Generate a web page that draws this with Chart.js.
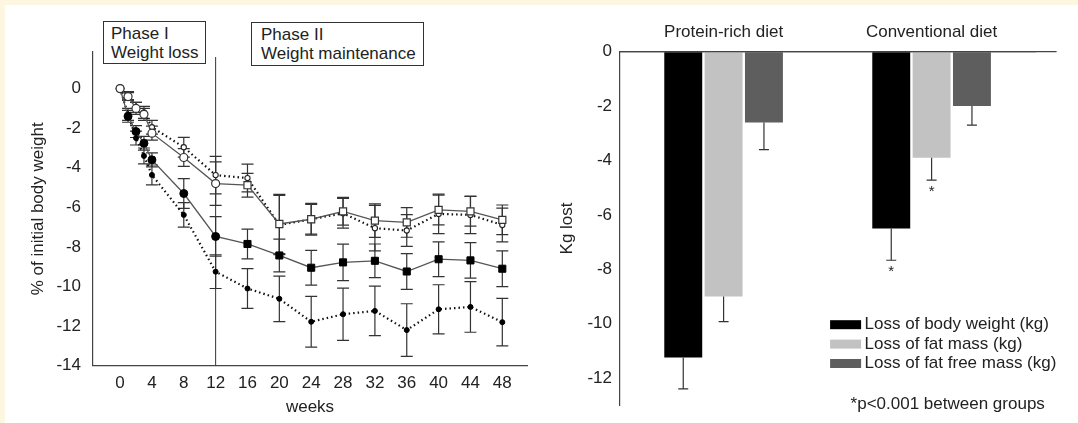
<!DOCTYPE html>
<html>
<head>
<meta charset="utf-8">
<script src="https://cdn.jsdelivr.net/npm/chart.js@4"></script>
<style>
  html, body { margin: 0; padding: 0; }
  body { width: 1078px; height: 423px; background: #fdf7e2; position: relative; overflow: hidden;
         font-family: "Liberation Sans", Arial, sans-serif; }
  #sheet { position: absolute; left: 5px; top: 5px; right: 0; bottom: 0; background: #fff; }
  .wrap { position: absolute; top: 0; height: 423px; }
  #leftWrap { left: 0; width: 540px; }
  #rightWrap { left: 540px; width: 538px; }
  .phase { position: absolute; border: 1px solid #333; font-size: 17px; line-height: 19px; color: #222;
           padding: 2px 0 0 7px; box-sizing: border-box; background: #fff; white-space: nowrap; }
</style>
</head>
<body>
<div id="sheet"></div>
<div class="wrap" id="leftWrap"><canvas id="weightChart"></canvas></div>
<div class="wrap" id="rightWrap"><canvas id="compChart"></canvas></div>
<div class="phase" style="left:103px;top:21px;width:103px;height:43px;">Phase I<br>Weight loss</div>
<div class="phase" style="left:251px;top:22px;width:173px;height:44px;padding-left:9px;">Phase II<br>Weight maintenance</div>

<script>
// ---- left panel: % of initial body weight over time ----
const weeks = [0, 1, 2, 3, 4, 8, 12, 16, 20, 24, 28, 32, 36, 40, 44, 48];
const weekTicks = [0, 4, 8, 12, 16, 20, 24, 28, 32, 36, 40, 44, 48];
const pctTicks = [0, -2, -4, -6, -8, -10, -12, -14];
const phaseSplitWeek = 12;

// open markers, solid line
const openSolid = [0, -0.4, -1.0, -1.3, -2.25, -3.48, -4.8, -4.88, -6.84, -6.6, -6.2, -6.67, -6.76, -6.13, -6.2, -6.63];
const openSolidErr = [0, 0.2, 0.3, 0.3, 0.35, 0.45, 1.1, 0.6, 1.5, 0.8, 0.7, 0.85, 0.75, 0.75, 0.75, 0.75];
// small open markers, dotted line
const openDotted = [0, -0.35, -0.95, -1.2, -1.95, -2.96, -4.37, -4.52, -6.89, -6.6, -6.3, -7.05, -7.17, -6.33, -6.38, -6.89];
const openDottedErr = [0, 0.2, 0.25, 0.3, 0.35, 0.5, 0.95, 0.7, 1.5, 0.75, 0.75, 1.15, 0.8, 1.0, 0.95, 0.85];
// filled markers, solid line
const filledSolid = [0, -1.4, -2.17, -2.76, -3.6, -5.3, -7.47, -7.85, -8.43, -9.05, -8.78, -8.7, -9.24, -8.62, -8.68, -9.1];
const filledSolidErr = [0, 0.3, 0.3, 0.35, 0.35, 0.75, 1.0, 0.75, 0.83, 0.88, 0.92, 0.85, 0.9, 0.88, 0.9, 0.9];
// small filled dots, dotted line
const filledDotted = [0, -1.3, -2.5, -3.4, -4.36, -6.38, -9.25, -10.1, -10.62, -11.78, -11.4, -11.23, -12.2, -11.15, -11.03, -11.8];
const filledDottedErr = [0, 0.3, 0.35, 0.4, 0.5, 0.62, 0.85, 1.0, 1.15, 1.28, 1.32, 1.25, 1.33, 1.24, 1.28, 1.2];

// ---- right panel: kg lost per diet ----
const dietGroups = ['Protein-rich diet', 'Conventional diet'];
const bodyWeightLoss = [-11.25, -6.5];
const bodyWeightErr = [1.15, 1.17];
const fatMassLoss = [-9.0, -3.9];
const fatMassErr = [0.93, 0.82];
const fatFreeMassLoss = [-2.6, -2.0];
const fatFreeMassErr = [1.0, 0.7];
const kgTicks = [0, -2, -4, -6, -8, -10, -12];
const sigBodyWeight = [false, true];
const sigFatMass = [false, true];
const sigFatFree = [false, false];

const FONT = '"Liberation Sans", Arial, sans-serif';
Chart.defaults.font.family = FONT;
Chart.defaults.font.size = 17;
Chart.defaults.color = '#222';
Chart.defaults.animation = false;

const toXY = vals => weeks.map((w, i) => ({ x: w, y: vals[i] }));
const bigStyle = ctx => weeks[ctx.dataIndex] <= 12 ? 'circle' : 'rect';
const bigRadius = ctx => weeks[ctx.dataIndex] <= 12 ? 4 : 5;
const lineErrors = [openSolidErr, openDottedErr, filledSolidErr, filledDottedErr];

// error bars + phase divider on the weight curve
const curveExtras = {
    id: 'curveExtras',
    beforeDatasetsDraw(chart) {
        const { ctx, chartArea, scales: { x, y } } = chart;
        ctx.save();
        ctx.strokeStyle = '#333';
        ctx.lineWidth = 1;
        const xs = x.getPixelForValue(phaseSplitWeek);
        ctx.beginPath();
        ctx.moveTo(xs, chartArea.top + 5);
        ctx.lineTo(xs, chartArea.bottom);
        ctx.stroke();

        ctx.lineWidth = 1.2;
        lineErrors.forEach((errs, di) => {
            const vals = chart.data.datasets[di].data;
            vals.forEach((p, j) => {
                if (!errs[j]) return;
                const px = x.getPixelForValue(p.x);
                const top = y.getPixelForValue(p.y + errs[j]);
                const bot = y.getPixelForValue(p.y - errs[j]);
                ctx.beginPath();
                ctx.moveTo(px, top); ctx.lineTo(px, bot);
                ctx.moveTo(px - 6, top); ctx.lineTo(px + 6, top);
                ctx.moveTo(px - 6, bot); ctx.lineTo(px + 6, bot);
                ctx.stroke();
            });
        });
        ctx.restore();
    }
};

// dataset 0 is painted last, so the open curve sits on top at week 0
new Chart(document.getElementById('weightChart'), {
    type: 'line',
    data: {
        datasets: [
            { data: toXY(openSolid), borderColor: '#555', borderWidth: 1.3,
              pointStyle: bigStyle, pointRadius: bigRadius,
              pointBackgroundColor: '#fff', pointBorderColor: '#333', pointBorderWidth: 1.2 },
            { data: toXY(openDotted), borderColor: '#111', borderWidth: 2.2, borderDash: [1.5, 3],
              pointStyle: 'circle', pointRadius: 2.6,
              pointBackgroundColor: '#fff', pointBorderColor: '#222', pointBorderWidth: 1.1 },
            { data: toXY(filledSolid), borderColor: '#555', borderWidth: 1.3,
              pointStyle: bigStyle, pointRadius: bigRadius,
              pointBackgroundColor: '#000', pointBorderColor: '#000', pointBorderWidth: 1 },
            { data: toXY(filledDotted), borderColor: '#111', borderWidth: 2.2, borderDash: [1.5, 3],
              pointStyle: 'circle', pointRadius: 2.5,
              pointBackgroundColor: '#000', pointBorderColor: '#000', pointBorderWidth: 1 }
        ]
    },
    options: {
        responsive: true,
        maintainAspectRatio: false,
        layout: { padding: { left: 0, top: 52, right: 13, bottom: 0 } },
        plugins: { legend: { display: false }, tooltip: { enabled: false } },
        scales: {
            x: {
                type: 'linear', min: -3.4, max: 51.1,
                afterBuildTicks: s => { s.ticks = weekTicks.map(v => ({ value: v })); },
                afterFit: s => { s.height = 57.3; },
                grid: { drawOnChartArea: false, drawTicks: false },
                border: { color: '#444', width: 1.2 },
                ticks: { padding: 7.4 },
                title: { display: true, text: 'weeks', padding: { top: 0, bottom: 5.8 } }
            },
            y: {
                min: -14, max: 1.85,
                afterBuildTicks: s => { s.ticks = pctTicks.map(v => ({ value: v })); },
                afterFit: s => { s.width = 93; },
                grid: { drawOnChartArea: false, drawTicks: false },
                border: { color: '#444', width: 1.2 },
                ticks: { padding: 12 },
                title: { display: true, text: '% of initial body weight', padding: { top: 27.7, bottom: 0 } }
            }
        }
    },
    plugins: [curveExtras]
});

// error bars, asterisks, legend and note on the bar panel
const barErrors = [bodyWeightErr, fatMassErr, fatFreeMassErr];
const barSig = [sigBodyWeight, sigFatMass, sigFatFree];
const barExtras = {
    id: 'barExtras',
    afterDatasetsDraw(chart) {
        const { ctx, chartArea, scales: { y } } = chart;
        ctx.save();
        // zero line runs a bit past the plot
        const y0 = y.getPixelForValue(0);
        ctx.strokeStyle = '#444';
        ctx.lineWidth = 1.2;
        ctx.beginPath();
        ctx.moveTo(chartArea.left, y0);
        ctx.lineTo(chartArea.right + 21, y0);
        ctx.stroke();

        ctx.strokeStyle = '#333';
        ctx.lineWidth = 1.2;
        ctx.fillStyle = '#222';
        ctx.font = '15px ' + FONT;
        ctx.textAlign = 'center';
        ctx.textBaseline = 'top';
        chart.data.datasets.forEach((ds, di) => {
            const meta = chart.getDatasetMeta(di);
            meta.data.forEach((bar, j) => {
                const end = y.getPixelForValue(ds.data[j] - barErrors[di][j]);
                ctx.beginPath();
                ctx.moveTo(bar.x, bar.y); ctx.lineTo(bar.x, end);
                ctx.moveTo(bar.x - 5, end); ctx.lineTo(bar.x + 5, end);
                ctx.stroke();
                if (barSig[di][j]) ctx.fillText('*', bar.x, end + 4);
            });
        });

        // legend inside the plot
        ctx.font = '17px ' + FONT;
        ctx.textAlign = 'left';
        ctx.textBaseline = 'middle';
        const lx = chartArea.left + 210.5;
        chart.data.datasets.forEach((ds, di) => {
            const cy = chartArea.top + 273 + di * 19.4;
            ctx.fillStyle = ds.backgroundColor;
            ctx.fillRect(lx, cy - 4.5, 31, 9);
            ctx.fillStyle = '#222';
            ctx.fillText(ds.label, lx + 34.5, cy);
        });
        ctx.fillText('*p<0.001 between groups', chartArea.left + 231, chartArea.top + 352.3);
        ctx.restore();
    }
};

new Chart(document.getElementById('compChart'), {
    type: 'bar',
    data: {
        labels: dietGroups,
        datasets: [
            { label: 'Loss of body weight (kg)', data: bodyWeightLoss, backgroundColor: '#000000' },
            { label: 'Loss of fat mass (kg)', data: fatMassLoss, backgroundColor: '#c2c2c2' },
            { label: 'Loss of fat free mass (kg)', data: fatFreeMassLoss, backgroundColor: '#5e5e5e' }
        ]
    },
    options: {
        responsive: true,
        maintainAspectRatio: false,
        categoryPercentage: 0.582,
        barPercentage: 0.94,
        layout: { padding: { left: 0, top: 0, right: 42.4, bottom: 6.3 } },
        plugins: { legend: { display: false }, tooltip: { enabled: false } },
        scales: {
            x: {
                position: 'top', offset: true,
                afterFit: s => { s.height = 51.7; },
                grid: { drawOnChartArea: false, drawTicks: false, offset: true },
                border: { color: '#444', width: 1.2 },
                ticks: { padding: 9.2 }
            },
            y: {
                min: -13, max: 0,
                afterBuildTicks: s => { s.ticks = kgTicks.map(v => ({ value: v })); },
                afterFit: s => { s.width = 79.6; },
                grid: { drawOnChartArea: false, drawTicks: false },
                border: { color: '#444', width: 1.2 },
                ticks: { padding: 7.6 },
                title: { display: true, text: 'Kg lost', padding: { top: 17.3, bottom: 0 } }
            }
        }
    },
    plugins: [barExtras]
});
</script>
</body>
</html>
